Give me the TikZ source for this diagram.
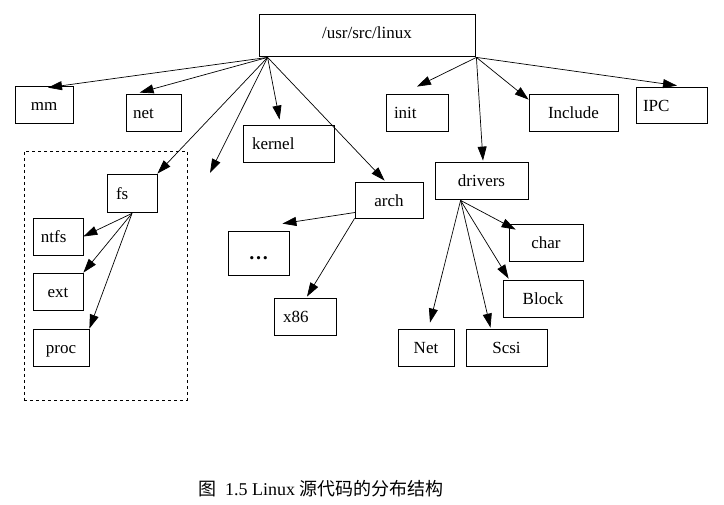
\documentclass[tikz,border=0pt]{standalone}
\usepackage{fontspec}
\setmainfont{Liberation Serif}
\newfontfamily\cjk{Noto Sans CJK SC}
\usetikzlibrary{arrows.meta}
\begin{document}
\begin{tikzpicture}[x=1pt,y=-1pt,
  box/.style={draw, line width=0.8pt, inner sep=0pt, minimum height=37pt,
              text height=13pt, text depth=0pt,
              font=\fontsize{17}{20}\selectfont},
  lbox/.style={box, align=left, text width=#1},
  arr/.style={line width=0.7pt, -{Triangle[length=14pt,width=9pt]}},
  grp/.style={draw, dashed, line width=0.8pt, inner sep=0pt}]
\useasboundingbox (0,0) rectangle (724,505);

% group frame
\node[grp, minimum width=163pt, minimum height=249pt] (fsgroup) at (105.5,275.5) {};

% boxes
\node[box, minimum width=216pt, minimum height=42pt, text height=8pt] (root) at (367,35) {/usr/src/linux};
\node[box, minimum width=58pt] (mm) at (44,104.5) {mm};
\node[lbox=41pt, inner xsep=7pt] (net) at (153.5,112.5) {net};
\node[lbox=73pt, inner xsep=9pt] (kernel) at (288.5,143.5) {kernel};
\node[lbox=32pt, inner xsep=9pt, minimum height=38pt] (fs) at (132,193) {fs};
\node[lbox=34pt, inner xsep=8pt] (ntfs) at (58,236.5) {ntfs};
\node[box, minimum width=50pt] (ext) at (58,291.5) {ext};
\node[box, minimum width=56pt] (proc) at (61,347.5) {proc};
\node[box, minimum width=61pt, minimum height=44pt] (dots) at (258.5,253) {\bfseries\fontsize{20}{20}\selectfont …};
\node[lbox=44pt, inner xsep=9pt] (x86) at (305,316.5) {x86};
\node[box, minimum width=68pt, minimum height=36pt] (arch) at (389,200) {arch};
\node[lbox=46pt, inner xsep=8pt] (init) at (417,112.5) {init};
\node[box, minimum width=93pt] (drivers) at (481.5,180.5) {drivers};
\node[box, minimum width=89pt] (include) at (573.5,112.5) {Include};
\node[lbox=57pt, inner xsep=7pt, minimum height=36pt] (ipc) at (671.5,105) {IPC};
\node[box, minimum width=74pt] (char) at (546,242.5) {char};
\node[box, minimum width=80pt] (block) at (543,298.5) {Block};
\node[box, minimum width=56pt] (dnet) at (426,347.5) {Net};
\node[box, minimum width=81pt] (scsi) at (506.5,347.5) {Scsi};

% connector origins
\coordinate (rl) at ([xshift=9pt,yshift=-1pt]root.south west);
\coordinate (rr) at ([xshift=1pt,yshift=-1pt]root.south east);
\coordinate (stray) at (210,173);
\coordinate (fo) at ([yshift=-1pt]fs.south);
\coordinate (ao) at ([xshift=1pt,yshift=6pt]arch.south west);
\coordinate (do) at ([xshift=26pt,yshift=-1pt]drivers.south west);

% root edges
\draw[arr] (rl) -- ([xshift=4pt,yshift=-2pt]mm.north);
\draw[arr] (rl) -- ([xshift=14pt,yshift=1pt]net.north west);
\draw[arr] (rl) -- (fs.north east);
\draw[arr] (rl) -- (stray);
\draw[arr] (rl) -- ([xshift=37pt,yshift=5pt]kernel.north west);
\draw[arr] (rl) -- ([xshift=30pt,yshift=1pt]arch.north west);
\draw[arr] (rr) -- ([yshift=7pt]init.north);
\draw[arr] (rr) -- ([xshift=1.5pt,yshift=1pt]drivers.north);
\draw[arr] (rr) -- ([yshift=-6pt]include.north west);
\draw[arr] (rr) -- ([xshift=5.5pt,yshift=1pt]ipc.north);

% fs edges
\draw[arr] (fo) -- (ntfs.east);
\draw[arr] (fo) -- (ext.north east);
\draw[arr] (fo) -- (proc.north east);

% arch edges
\draw[arr] (ao) -- ([xshift=-7pt,yshift=7pt]dots.north east);
\draw[arr] (arch.south west) -- ([xshift=2pt,yshift=1pt]x86.north);

% drivers edges
\draw[arr] (do) -- ([xshift=7pt,yshift=-6pt]char.north west);
\draw[arr] (do) -- ([xshift=6pt,yshift=1pt]block.north west);
\draw[arr] (do) -- ([xshift=4pt,yshift=6pt]dnet.north);
\draw[arr] (do) -- ([xshift=-16pt,yshift=1pt]scsi.north);

% caption
\node[anchor=west, inner sep=0pt, font=\fontsize{18}{20}\selectfont] (cap) at (198,489)
  {{\cjk 图}\ \ 1.5 Linux {\cjk 源代码的分布结构}};
\end{tikzpicture}
\end{document}
